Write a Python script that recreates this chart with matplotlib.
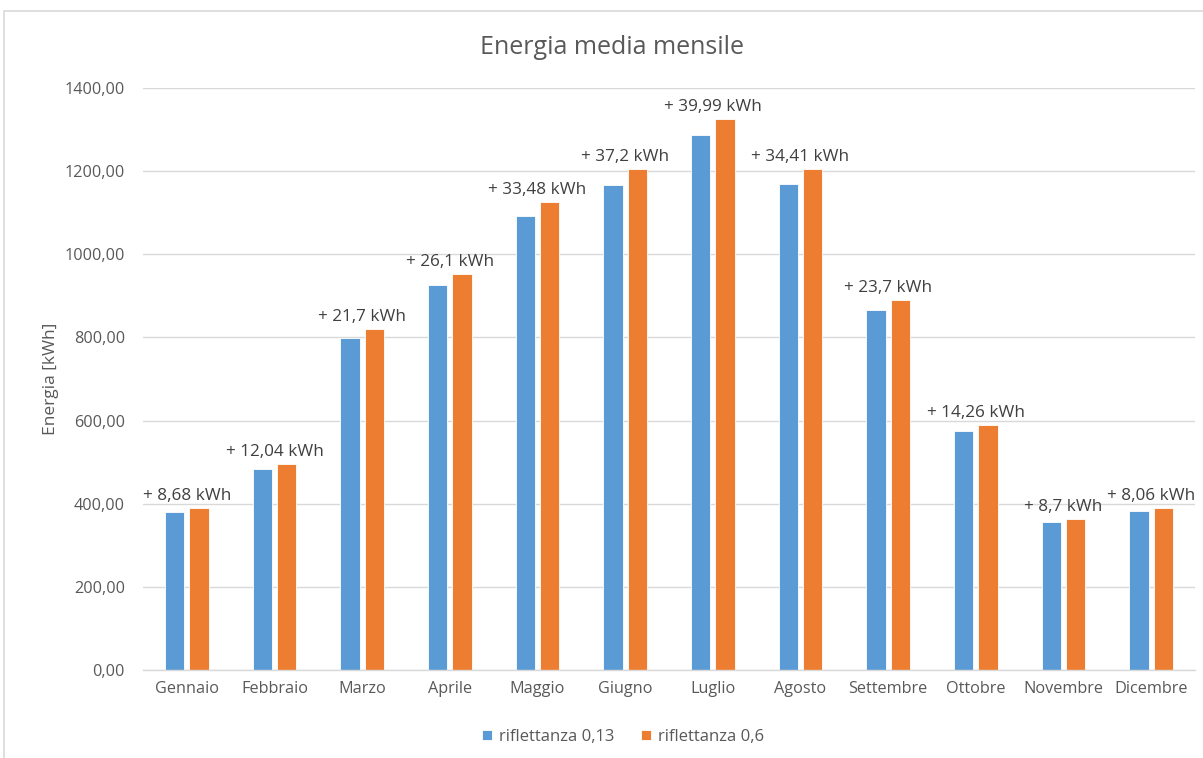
import matplotlib
matplotlib.use("Agg")
import matplotlib.pyplot as plt
from matplotlib.patches import Rectangle
from matplotlib.ticker import FuncFormatter
import numpy as np

mesi = ["Gennaio", "Febbraio", "Marzo", "Aprile", "Maggio", "Giugno",
        "Luglio", "Agosto", "Settembre", "Ottobre", "Novembre", "Dicembre"]
rifl_013 = [381.0, 484.0, 798.0, 927.0, 1092.0, 1167.0,
            1286.0, 1170.0, 867.0, 575.0, 355.0, 382.0]
incremento = [8.68, 12.04, 21.7, 26.1, 33.48, 37.2,
              39.99, 34.41, 23.7, 14.26, 8.7, 8.06]
etichette = ["+ 8,68 kWh", "+ 12,04 kWh", "+ 21,7 kWh", "+ 26,1 kWh",
             "+ 33,48 kWh", "+ 37,2 kWh", "+ 39,99 kWh", "+ 34,41 kWh",
             "+ 23,7 kWh", "+ 14,26 kWh", "+ 8,7 kWh", "+ 8,06 kWh"]
rifl_06 = [a + d for a, d in zip(rifl_013, incremento)]
y_ticks = [0, 200, 400, 600, 800, 1000, 1200, 1400]

plt.rcParams['font.family'] = ['Open Sans', 'DejaVu Sans']

BLUE = "#5B9BD5"
ORANGE = "#ED7D31"
TEXT = "#595959"
GRID = "#D9D9D9"

fig = plt.figure(figsize=(12.03, 7.58), dpi=100)
ax = fig.add_axes([143 / 1203, 1 - 670 / 758, (1195 - 143) / 1203, (670 - 88) / 758])

x = np.arange(len(mesi))
w = 0.22
off = 0.14
ax.bar(x - off, rifl_013, width=w, color=BLUE, edgecolor="white", linewidth=0.6,
       label="riflettanza 0,13", zorder=3)
ax.bar(x + off, rifl_06, width=w, color=ORANGE, edgecolor="white", linewidth=0.6,
       label="riflettanza 0,6", zorder=3)

for i, (val, txt) in enumerate(zip(rifl_06, etichette)):
    ax.annotate(txt, xy=(i, val), xytext=(0, 3), textcoords="offset points",
                ha="center", va="bottom", fontsize=12.3, color="#404040", zorder=4)

ax.set_xlim(-0.5, len(mesi) - 0.5)
ax.set_ylim(0, 1400)
ax.set_yticks(y_ticks)
ax.yaxis.set_major_formatter(FuncFormatter(lambda v, p: f"{v:.2f}".replace(".", ",")))
ax.set_xticks(x)
ax.set_xticklabels(mesi)
ax.tick_params(axis="both", length=0, colors=TEXT, labelsize=11.7)
ax.tick_params(axis="x", pad=8)
ax.tick_params(axis="y", pad=13)
ax.grid(axis="y", color=GRID, linewidth=1, zorder=0)
for side in ["top", "right", "left"]:
    ax.spines[side].set_visible(False)
ax.spines["bottom"].set_color(GRID)
ax.spines["bottom"].set_linewidth(1)
ax.spines["bottom"].set_zorder(5)

ax.set_ylabel("Energia [kWh]", fontsize=12.5, color=TEXT, labelpad=4)
fig.text(612 / 1203, 1 - 47 / 758, "Energia media mensile", ha="center", va="center",
         fontsize=18, color=TEXT)

leg = fig.legend(loc="center", bbox_to_anchor=(0.518, 1 - 737 / 758), ncol=2,
                 frameon=False, fontsize=12, handlelength=0.6, handleheight=0.6,
                 handletextpad=0.4, columnspacing=1.6)
for t in leg.get_texts():
    t.set_color(TEXT)

fig.patches.append(Rectangle((4 / 1203, -0.05), 1.2, 1.05 - 11 / 758,
                             transform=fig.transFigure, fill=False,
                             edgecolor=GRID, linewidth=1.2))

fig.savefig("out.png", dpi=100)
